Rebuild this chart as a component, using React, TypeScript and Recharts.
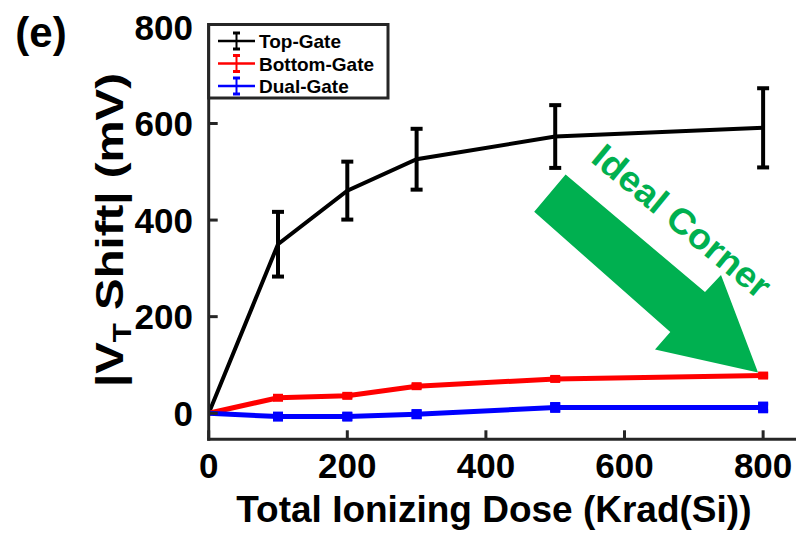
import { LineChart, Line, XAxis, YAxis, ErrorBar, Label } from "recharts";

const dose = [0, 100, 200, 300, 500, 800];
const topGate = [0, 350, 461, 526, 573, 591];
const topGateErr = [0, 67, 60, 63, 65, 82];
const bottomGate = [0, 32, 36, 56, 71, 78];
const bottomGateErr = [0, 3, 3, 3, 3, 3];
const dualGate = [0, -7, -7, -2, 12, 12];
const dualGateErr = [0, 4, 5, 6, 7, 8];

const xTicks = [0, 200, 400, 600, 800];
const yTicks = [0, 200, 400, 600, 800];

const series = [
  { key: "top", name: "Top-Gate", color: "#000000" },
  { key: "bottom", name: "Bottom-Gate", color: "#ff0000" },
  { key: "dual", name: "Dual-Gate", color: "#0000ff" },
];

const data = dose.map((d, i) => ({
  dose: d,
  top: topGate[i],
  topErr: topGateErr[i],
  bottom: bottomGate[i],
  bottomErr: bottomGateErr[i],
  dual: dualGate[i],
  dualErr: dualGateErr[i],
}));

const FONT = "'Liberation Sans', Arial, sans-serif";
const FRAME = "#262626";
const GREEN = "#00b050";
const TICK_LEN = 9;

const axisLine = { stroke: FRAME, strokeWidth: 3, strokeLinecap: "square" as const };

// inward ticks: the library only draws outward ones, so each tick draws its own mark
const BottomTick = (props: any) => {
  const { x, y } = props;
  const M = 13;
  return (
    <g>
      <line x1={x} x2={x} y1={y - M} y2={y - M - TICK_LEN} stroke={FRAME} strokeWidth={3} />
      <text x={x} y={y} dy="0.72em" textAnchor="middle" fontFamily={FONT} fontWeight="bold" fontSize={35} fill="#000">
        {props.payload.value}
      </text>
    </g>
  );
};

const LeftTick = (props: any) => {
  const { x, y } = props;
  const M = 15.7;
  return (
    <g>
      <line x1={x + M} x2={x + M + TICK_LEN} y1={y} y2={y} stroke={FRAME} strokeWidth={3} />
      <text x={x} y={y} dy="0.36em" textAnchor="end" fontFamily={FONT} fontWeight="bold" fontSize={35} fill="#000">
        {props.payload.value}
      </text>
    </g>
  );
};

const TopTick = (props: any) => {
  const { x, y } = props;
  return <line x1={x} x2={x} y1={y} y2={y + TICK_LEN} stroke={FRAME} strokeWidth={3} />;
};

const RightTick = (props: any) => {
  const { x, y } = props;
  return <line x1={x} x2={x - TICK_LEN} y1={y} y2={y} stroke={FRAME} strokeWidth={3} />;
};

const squareDot = (color: string, w: number, h: number) => (props: any) => {
  const { cx, cy, index } = props;
  if (index === 0 || cx == null) return <g key={`d-${index}`} />;
  return <rect key={`d-${index}`} x={cx - w / 2} y={cy - h / 2} width={w} height={h} fill={color} />;
};

const XTitle = (props: any) => {
  const vb = props.viewBox;
  return (
    <text
      x={vb.x + vb.width / 2 - 8}
      y={vb.y + 83}
      textAnchor="middle"
      fontFamily={FONT}
      fontWeight="bold"
      fontSize={37}
      fill="#000"
    >
      Total Ionizing Dose (Krad(Si))
    </text>
  );
};

const YTitle = (props: any) => {
  const vb = props.viewBox;
  const x = vb.x + 123;
  const y = 230;
  return (
    <text
      x={x}
      y={y}
      transform={`rotate(-90, ${x}, ${y})`}
      textAnchor="middle"
      fontFamily={FONT}
      fontWeight="bold"
      fontSize={38}
      fill="#000"
      textLength={314}
      lengthAdjust="spacingAndGlyphs"
    >
      |V
      <tspan fontSize={25} dy={8}>T</tspan>
      <tspan dy={-8}> Shift| (mV)</tspan>
    </text>
  );
};

export default function App() {
  return (
    <div style={{ position: "absolute", left: 0, top: 0, width: 796, height: 538, background: "#fff" }}>
      <LineChart
        width={796}
        height={538}
        data={data}
        margin={{ top: 24.5, right: 1, bottom: 0, left: 0 }}
      >
        <XAxis
          dataKey="dose"
          type="number"
          domain={[0, 846]}
          ticks={xTicks}
          allowDataOverflow
          height={98.7}
          axisLine={axisLine}
          tickLine={false}
          tickSize={0}
          tickMargin={13}
          tick={BottomTick}
          interval={0}
        >
          <Label content={XTitle} />
        </XAxis>
        <XAxis
          xAxisId="top"
          orientation="top"
          dataKey="dose"
          type="number"
          domain={[0, 846]}
          ticks={xTicks}
          allowDataOverflow
          height={0}
          axisLine={axisLine}
          tickLine={false}
          tickSize={0}
          tickMargin={0}
          tick={TopTick}
          interval={0}
        />
        <YAxis
          type="number"
          domain={[-54, 805]}
          ticks={yTicks}
          allowDataOverflow
          width={208.7}
          axisLine={axisLine}
          tickLine={false}
          tickSize={0}
          tickMargin={15.7}
          tick={LeftTick}
          interval={0}
        >
          <Label content={YTitle} />
        </YAxis>
        <YAxis
          yAxisId="right"
          orientation="right"
          type="number"
          domain={[-54, 805]}
          ticks={yTicks}
          allowDataOverflow
          width={0}
          axisLine={axisLine}
          tickLine={false}
          tickSize={0}
          tickMargin={0}
          tick={RightTick}
          interval={0}
        />
        <Line
          dataKey="top"
          stroke="#000"
          strokeWidth={4}
          dot={false}
          activeDot={false}
          isAnimationActive={false}
        >
          <ErrorBar dataKey="topErr" direction="y" width={6} stroke="#000" strokeWidth={4} />
        </Line>
        <Line
          dataKey="bottom"
          stroke="#ff0000"
          strokeWidth={5}
          dot={squareDot("#ff0000", 10, 8)}
          activeDot={false}
          isAnimationActive={false}
        >
          <ErrorBar dataKey="bottomErr" direction="y" width={5} stroke="#ff0000" strokeWidth={3} />
        </Line>
        <Line
          dataKey="dual"
          stroke="#0000ff"
          strokeWidth={5}
          dot={squareDot("#0000ff", 10, 10)}
          activeDot={false}
          isAnimationActive={false}
        >
          <ErrorBar dataKey="dualErr" direction="y" width={5} stroke="#0000ff" strokeWidth={4} />
        </Line>
      </LineChart>
      <svg
        width={796}
        height={538}
        style={{ position: "absolute", left: 0, top: 0, pointerEvents: "none" }}
      >
        <text x={41} y={47} textAnchor="middle" fontFamily={FONT} fontWeight="bold" fontSize={42} fill="#000">
          (e)
        </text>
        <rect x={208.7} y={24.5} width={179.3} height={73.5} fill="#fff" stroke={FRAME} strokeWidth={3} />
        {series.map((s, i) => {
          const cy = 41 + i * 22.5;
          return (
            <g key={s.key}>
              <line x1={218} x2={255} y1={cy} y2={cy} stroke={s.color} strokeWidth={2.5} />
              <line x1={236.5} x2={236.5} y1={cy - 8} y2={cy + 8} stroke={s.color} strokeWidth={2} />
              <line x1={233} x2={240} y1={cy - 8} y2={cy - 8} stroke={s.color} strokeWidth={3} />
              <line x1={233} x2={240} y1={cy + 8} y2={cy + 8} stroke={s.color} strokeWidth={3} />
              <text x={259} y={cy + 7} fontFamily={FONT} fontWeight="bold" fontSize={19} fill="#000">
                {s.name}
              </text>
            </g>
          );
        })}
        <polygon
          points="565.6,174.6 705,292 721,275 758,372.6 655,349.6 670.3,332 534.2,211.8"
          fill={GREEN}
        />
        <text
          x={682}
          y={221}
          transform="rotate(39.5, 682, 221)"
          textAnchor="middle"
          dominantBaseline="central"
          fontFamily={FONT}
          fontWeight="bold"
          fontSize={36}
          fill={GREEN}
          textLength={219}
          lengthAdjust="spacingAndGlyphs"
        >
          Ideal Corner
        </text>
      </svg>
    </div>
  );
}
